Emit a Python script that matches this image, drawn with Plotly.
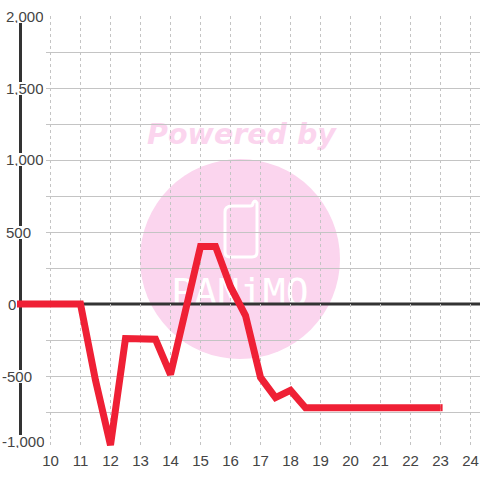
import plotly.graph_objects as go

x_vals = [10, 11, 11.5, 12, 12.5, 13, 13.5, 14, 14.5, 15, 15.5, 16, 16.5, 17, 17.5, 18, 18.5, 19, 20, 21, 22, 23]
y_vals = [0, 0, -530, -980, -240, -240, -245, -490, -60, 400, 400, 120, -80, -510, -650, -600, -720, -720, -720, -720, -720, -720]
x_ticks = list(range(10, 25))
y_grid = [v for v in range(-1000, 2001, 250) if v != 0]
y_labels = {2000: "2,000", 1500: "1,500", 1000: "1,000", 500: "500", 0: "0", -500: "-500", -1000: "-1,000"}

W, H = 480, 480
L, R, T, B = 46, 0, 16, 32
PW, PH = W - L - R, H - T - B
FONT = "Liberation Sans, Arial, sans-serif"
TXT = "#444444"
PINK = "#fbd5ee"
RED = "#ef2035"

def px(v):
    return (v - L) / PW
def py(v):
    return 1 - (v - T) / PH

phone = [
    f"M{px(232)},{py(206)} L{px(250)},{py(206)} Q{px(253)},{py(206)} {px(253)},{py(203)}",
    f"Q{px(255)},{py(199)} {px(257)},{py(203)} L{px(257)},{py(252)} Q{px(257)},{py(257)} {px(252)},{py(257)}",
    f"L{px(230)},{py(257)} Q{px(225)},{py(257)} {px(225)},{py(252)} L{px(225)},{py(212)} Q{px(225)},{py(206)} {px(232)},{py(206)} Z",
]

shapes = [
    dict(type="circle", xref="paper", yref="paper", layer="below", line_width=0, fillcolor=PINK,
         x0=px(140), x1=px(340), y0=py(359), y1=py(159)),
    dict(type="path", xref="paper", yref="paper", layer="below", fillcolor="rgba(0,0,0,0)",
         line=dict(color="white", width=3), path=" ".join(phone)),
    dict(type="rect", xref="paper", yref="paper", layer="below", line_width=0,
         fillcolor="rgba(0,0,0,0)", x0=px(140), x1=px(343), y0=py(148), y1=py(116),
         label=dict(text="<b><i>Powered by</i></b>", font=dict(family="DejaVu Sans", size=28.5, color=PINK),
                    textposition="middle center")),
    dict(type="rect", xref="paper", yref="paper", layer="below", line_width=0,
         fillcolor="rgba(0,0,0,0)", x0=px(160), x1=px(320), y0=py(308), y1=py(270),
         label=dict(text="PANiMO", font=dict(family="DejaVu Sans Mono", size=38, color="white"),
                    textposition="middle center")),
    dict(type="line", xref="paper", yref="paper", layer="between", x0=px(20.5), x1=px(20.5), y0=0, y1=1,
         line=dict(color="#333333", width=3)),
    dict(type="line", xref="paper", yref="y", layer="between", x0=px(20.5), x1=1, y0=0, y1=0,
         line=dict(color="#333333", width=3)),
    # series run-in left of the plot area, and its square end cap
    dict(type="line", xref="paper", yref="y", layer="above", x0=px(17), x1=px(51), y0=0, y1=0,
         line=dict(color=RED, width=7)),
    dict(type="line", xref="x", yref="y", layer="above", x0=23, x1=23.07, y0=-720, y1=-720,
         line=dict(color=RED, width=7)),
]

annotations = [
    dict(xref="paper", yref="paper", x=px(2 if v < 0 else (8 if v == 0 else 6)),
         y=py({2000: 16.5, -1000: 441.5}.get(v, 304 - v * 0.144)),
         text=t, showarrow=False, xanchor="left", yanchor="middle", font=dict(family=FONT, size=15, color=TXT),
         bgcolor="white", height=13, borderpad=0, borderwidth=0, align="left")
    for v, t in y_labels.items()
]

fig = go.Figure(go.Scatter(x=x_vals, y=y_vals, mode="lines", cliponaxis=False,
                           line=dict(color=RED, width=7), hoverinfo="skip"))
fig.update_layout(
    width=W, height=H, margin=dict(l=L, r=R, t=T, b=B, pad=0), paper_bgcolor="white", plot_bgcolor="rgba(0,0,0,0)",
    showlegend=False, shapes=shapes, annotations=annotations,
    xaxis=dict(range=[10 - 4.5 / 30, 24 + 9.5 / 30], tickmode="array", tickvals=x_ticks, ticktext=[str(v) for v in x_ticks],
               showgrid=True, gridcolor="#c4c4c4", griddash="3px,3px", gridwidth=1, zeroline=False, ticks="",
               showline=False, ticklabelstandoff=2, tickfont=dict(family=FONT, size=15, color=TXT)),
    yaxis=dict(range=[-1000, 2000], tickmode="array", tickvals=y_grid, showticklabels=False,
               showgrid=True, gridcolor="#c4c4c4", gridwidth=1, zeroline=False, ticks="", showline=False),
)
fig.write_html("out.html", config=dict(displayModeBar=False),
               post_script="document.body.style.margin='0';document.documentElement.style.overflow='hidden';")
